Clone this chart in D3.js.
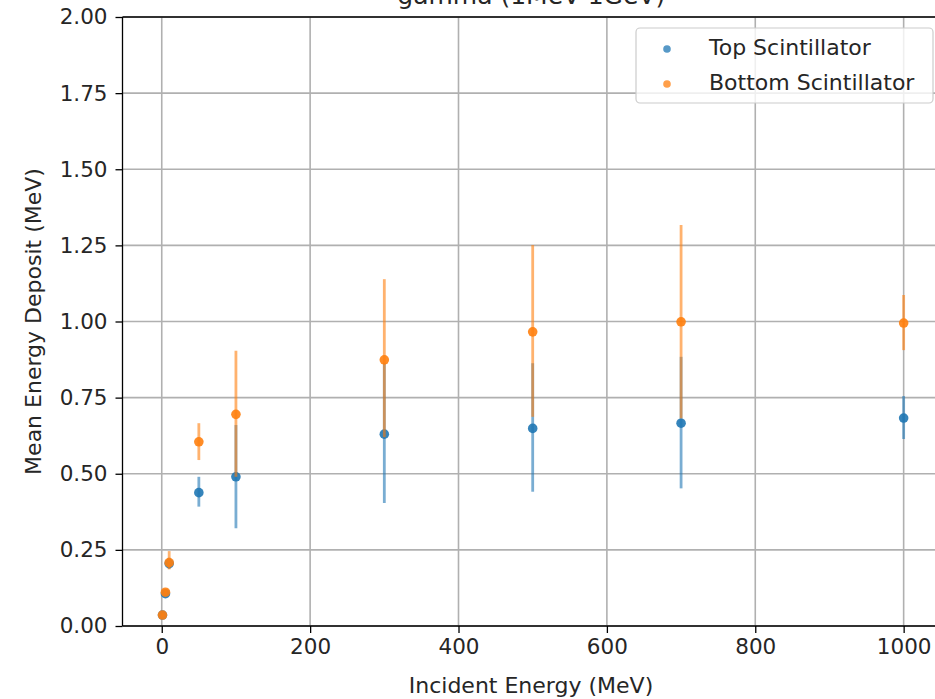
<!DOCTYPE html>
<html>
<head>
<meta charset="utf-8">
<script src="https://cdn.jsdelivr.net/npm/d3@7"></script>
<style>
  body { margin: 0; background: #fff; }
  text { font-family: "DejaVu Sans", sans-serif; fill: #262626; }
</style>
</head>
<body>
<div id="chart"></div>
<script>
// incident energies (MeV)
var energies = [1, 5, 10, 50, 100, 300, 500, 700, 1000];
// top scintillator: mean and error bar ends
var topMean = [0.036, 0.106, 0.205, 0.438, 0.490, 0.630, 0.649, 0.666, 0.683];
var topLow  = [0.030, 0.098, 0.188, 0.392, 0.321, 0.404, 0.441, 0.452, 0.614];
var topHigh = [0.042, 0.114, 0.224, 0.490, 0.660, 0.864, 0.863, 0.884, 0.755];
// bottom scintillator
var botMean = [0.036, 0.111, 0.208, 0.605, 0.695, 0.874, 0.966, 0.999, 0.995];
var botLow  = [0.030, 0.102, 0.186, 0.545, 0.490, 0.620, 0.687, 0.682, 0.906];
var botHigh = [0.042, 0.120, 0.246, 0.666, 0.904, 1.139, 1.251, 1.317, 1.087];

var xTicks = [0, 200, 400, 600, 800, 1000];
var yTicks = [0, 0.25, 0.5, 0.75, 1.0, 1.25, 1.5, 1.75, 2.0];

var W = 935, H = 699;
var margin = {top: 17, left: 122.5, bottom: 73},
    plotRight = 940,
    height = H - margin.top - margin.bottom;

var svg = d3.select("#chart")
  .append("svg")
    .attr("width", W)
    .attr("height", H);

var x = d3.scaleLinear()
  .domain([-52.9, 1049])
  .range([margin.left, plotRight]);
var y = d3.scaleLinear()
  .domain([0, 2])
  .range([margin.top + height, margin.top]);

// grid
svg.append("g").selectAll("line.gx")
  .data(xTicks).enter().append("line")
    .attr("x1", function(d) { return x(d); })
    .attr("x2", function(d) { return x(d); })
    .attr("y1", y(0)).attr("y2", y(2))
    .attr("stroke", "#b0b0b0").attr("stroke-width", 1.6);
svg.append("g").selectAll("line.gy")
  .data(yTicks).enter().append("line")
    .attr("x1", margin.left).attr("x2", plotRight)
    .attr("y1", function(d) { return y(d); })
    .attr("y2", function(d) { return y(d); })
    .attr("stroke", "#b0b0b0").attr("stroke-width", 1.6);

// axes
var xAxis = svg.append("g")
  .attr("transform", "translate(0," + y(0) + ")")
  .call(d3.axisBottom(x).tickValues(xTicks).tickFormat(d3.format("d")).tickSize(7).tickPadding(6));
var yAxis = svg.append("g")
  .attr("transform", "translate(" + margin.left + ",0)")
  .call(d3.axisLeft(y).tickValues(yTicks).tickFormat(d3.format(".2f")).tickSize(7).tickPadding(8));
[xAxis, yAxis].forEach(function(a) {
  a.selectAll("path").remove();
  a.selectAll("line").attr("stroke", "#000").attr("stroke-width", 1.3);
  a.selectAll("text").style("font-size", "21.5px").attr("fill", "#262626");
});

// spines
svg.append("line").attr("x1", margin.left).attr("x2", plotRight)
  .attr("y1", y(0)).attr("y2", y(0)).attr("stroke", "#000").attr("stroke-width", 1.3);
svg.append("line").attr("x1", margin.left).attr("x2", plotRight)
  .attr("y1", y(2)).attr("y2", y(2)).attr("stroke", "#000").attr("stroke-width", 1.3);
svg.append("line").attr("x1", margin.left).attr("x2", margin.left)
  .attr("y1", y(0)).attr("y2", y(2)).attr("stroke", "#000").attr("stroke-width", 1.3);

// series
var series = [
  {name: "Top Scintillator", color: "#1f77b4", mean: topMean, low: topLow, high: topHigh},
  {name: "Bottom Scintillator", color: "#ff7f0e", mean: botMean, low: botLow, high: botHigh}
];

series.forEach(function(s) {
  var g = svg.append("g");
  g.selectAll("line.err")
    .data(energies).enter().append("line")
      .attr("x1", function(d) { return x(d); })
      .attr("x2", function(d) { return x(d); })
      .attr("y1", function(d, i) { return y(s.low[i]); })
      .attr("y2", function(d, i) { return y(s.high[i]); })
      .attr("stroke", s.color).attr("stroke-width", 2.8).attr("stroke-opacity", 0.6);
  g.selectAll("circle")
    .data(energies).enter().append("circle")
      .attr("cx", function(d) { return x(d); })
      .attr("cy", function(d, i) { return y(s.mean[i]); })
      .attr("r", 4.8)
      .attr("fill", s.color).attr("fill-opacity", 0.9);
});

// title and labels
svg.append("text")
  .attr("x", (margin.left + plotRight) / 2).attr("y", 4)
  .attr("text-anchor", "middle").style("font-size", "25px")
  .text("gamma (1MeV-1GeV)");
svg.append("text")
  .attr("x", 531).attr("y", 693)
  .attr("text-anchor", "middle").style("font-size", "22px")
  .text("Incident Energy (MeV)");
svg.append("text")
  .attr("transform", "translate(41," + y(1) + ") rotate(-90)")
  .attr("text-anchor", "middle").style("font-size", "22px")
  .text("Mean Energy Deposit (MeV)");

// legend
var lg = svg.append("g");
lg.append("rect")
  .attr("x", 636).attr("y", 28).attr("width", 297).attr("height", 75)
  .attr("rx", 4).attr("fill", "#fff").attr("fill-opacity", 0.8)
  .attr("stroke", "#cccccc").attr("stroke-width", 1.2);
series.forEach(function(s, i) {
  lg.append("circle")
    .attr("cx", 667).attr("cy", 49 + i * 35).attr("r", 3.8)
    .attr("fill", s.color).attr("fill-opacity", 0.75);
  lg.append("text")
    .attr("x", 709).attr("y", 55 + i * 35)
    .style("font-size", "22px")
    .text(s.name);
});
</script>
</body>
</html>
